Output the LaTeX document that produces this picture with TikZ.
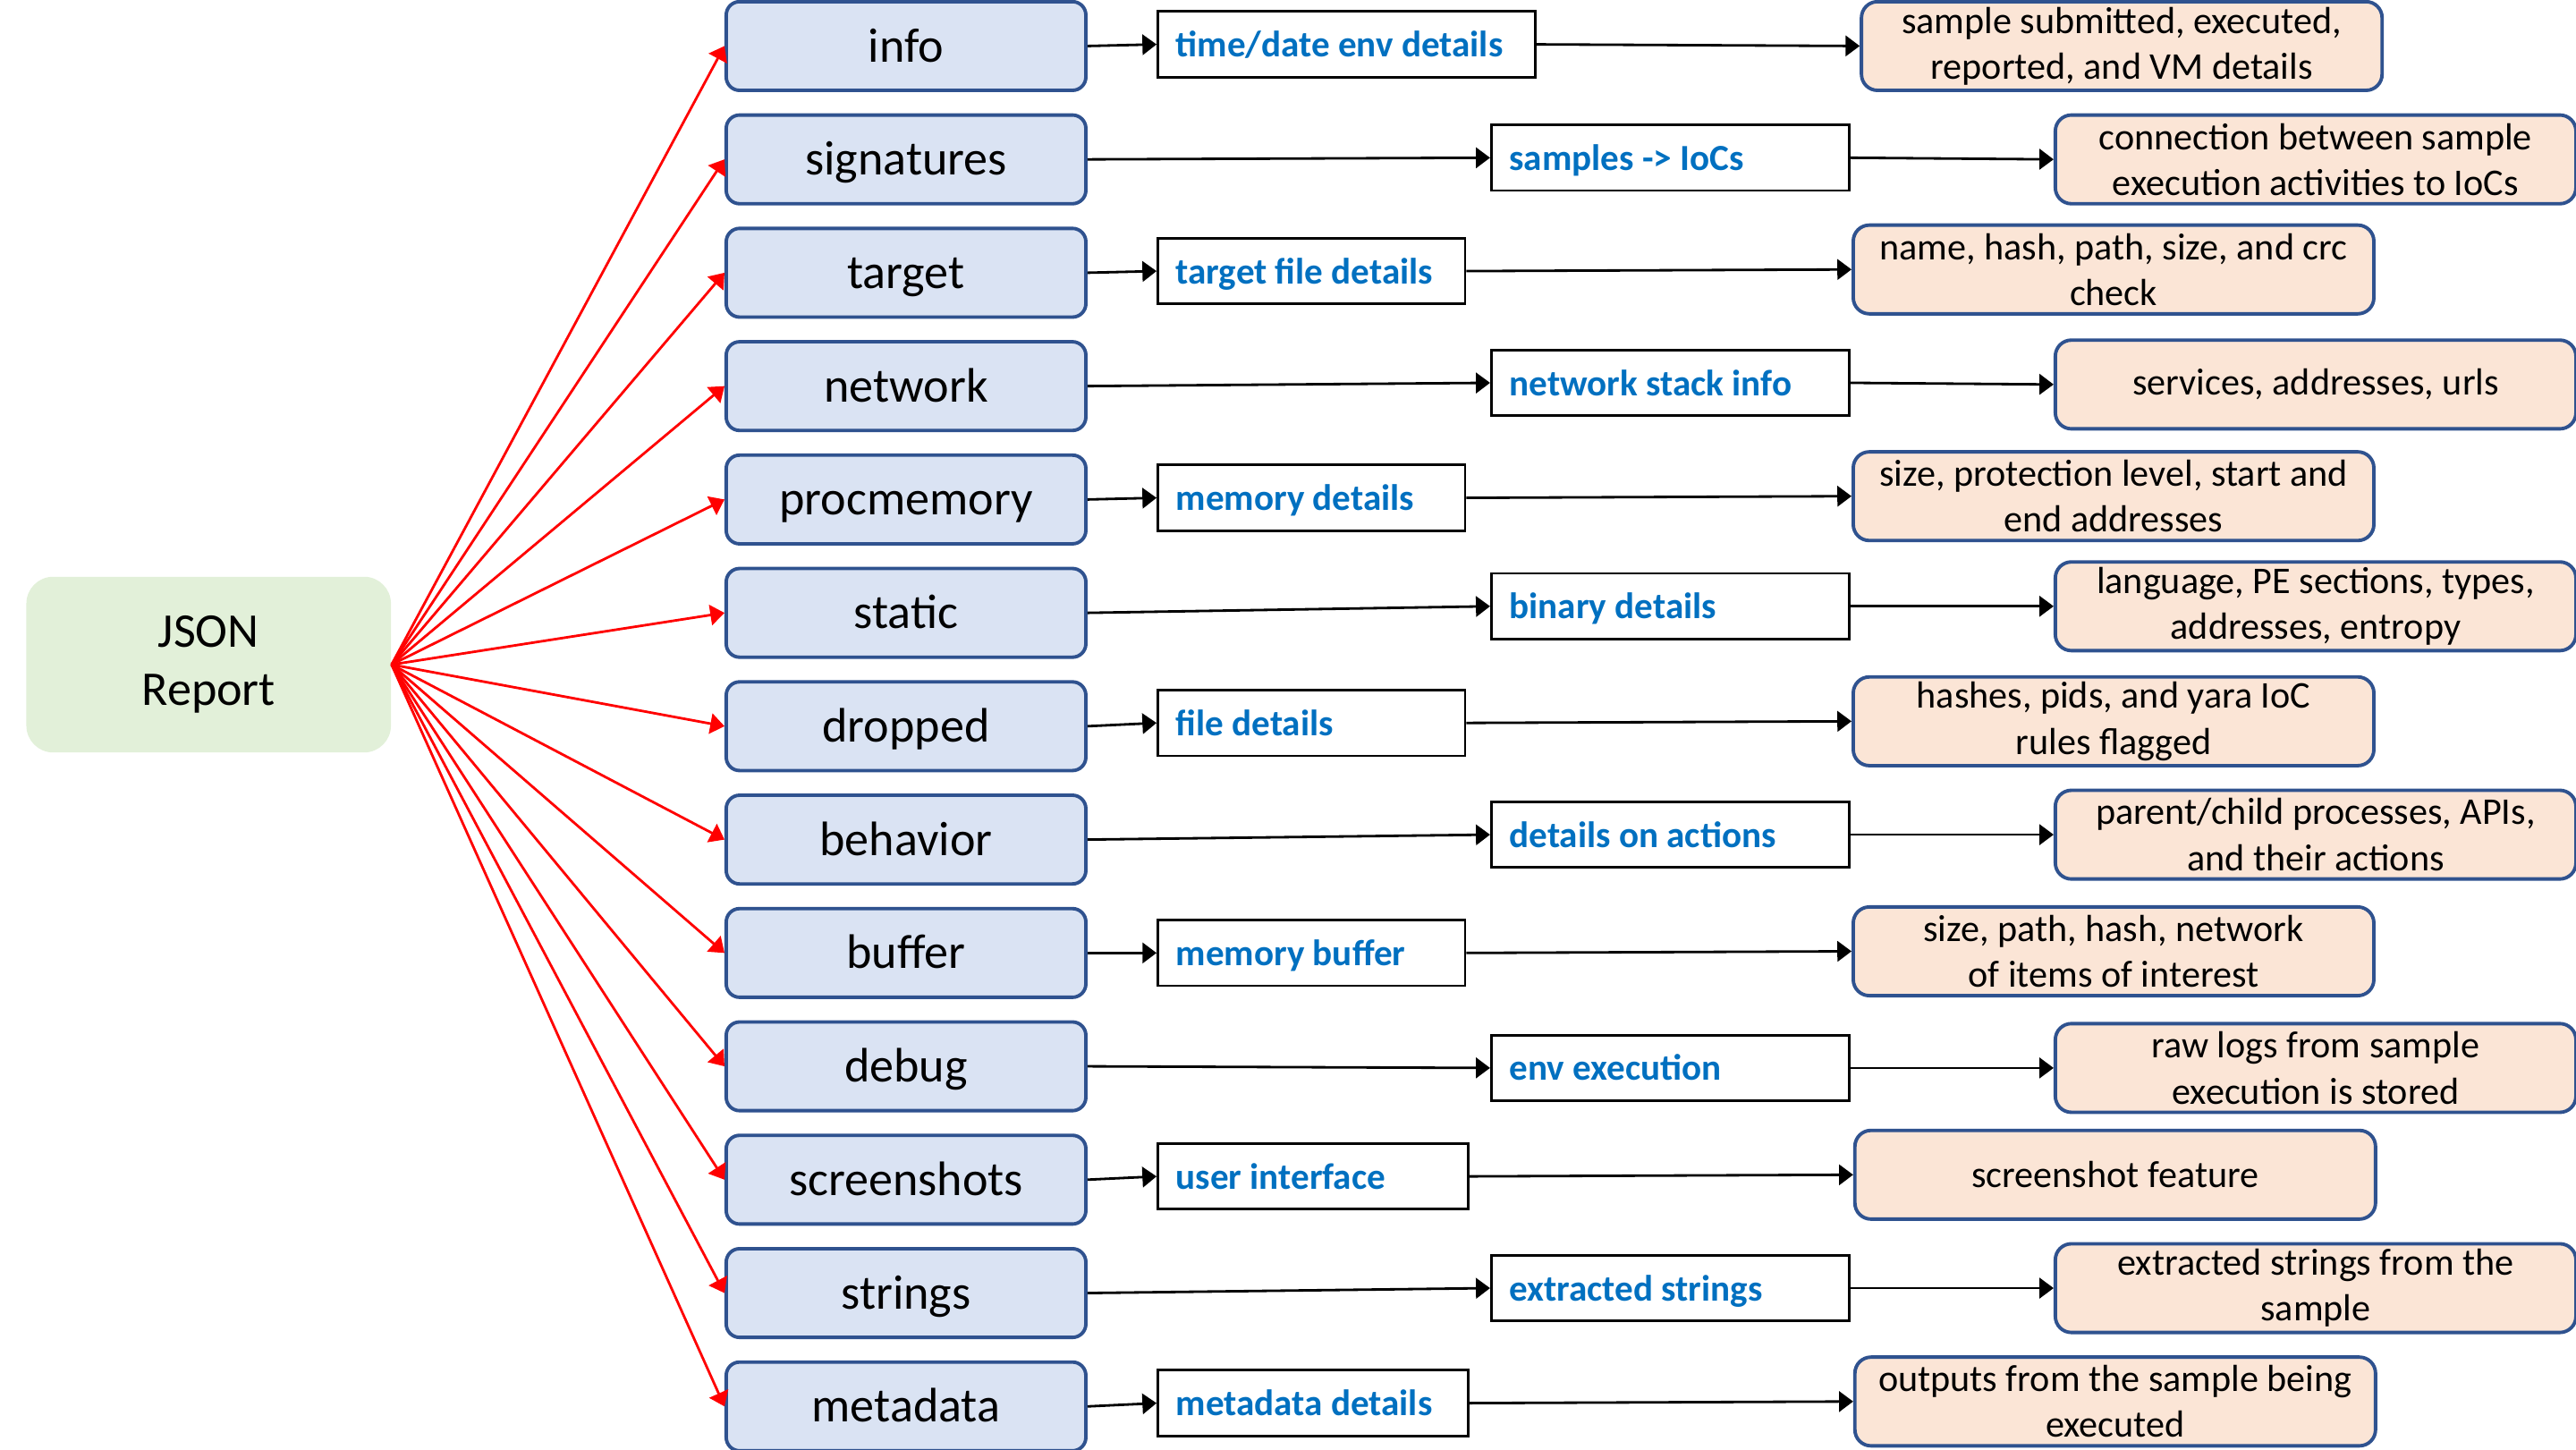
\documentclass[tikz,border=0pt]{standalone}
\usepackage{fontspec}
\setmainfont{Carlito}
\usetikzlibrary{arrows.meta}
\definecolor{lblue}{HTML}{DAE3F3}
\definecolor{bblue}{HTML}{2F528F}
\definecolor{peach}{HTML}{FBE5D6}
\definecolor{lgreen}{HTML}{E2F0D9}
\definecolor{tblue}{HTML}{0070C0}
\newcommand{\diagrow}[9]{%
 \node[lbox] (L#1) at (551.5,{28+69*#1}) {#2};
 \node[mbox] (M#1) at (#4,#5) {\makebox[#3][l]{#6}};
 \node[rbox] (R#1) at (#7,#8) {#9};
 \draw[arr] (L#1.east) -- (M#1.west);
 \draw[arr] (M#1.east) -- (R#1.west);
 \draw[rarr] (J.east) -- (L#1.west);
}
\begin{document}
\begin{tikzpicture}[x=0.018367cm, y=-0.018367cm,
 arr/.style={-{Triangle[length=4.5pt,width=6.5pt]}, line width=0.8pt, black},
 rarr/.style={-{Triangle[length=4.5pt,width=6.5pt]}, line width=0.8pt, red},
 lbox/.style={draw=bblue, fill=lblue, line width=1.1pt, rounded corners=0.15cm,
   minimum width=4.022cm, minimum height=0.992cm, inner sep=0pt,
   text height=11.5pt, text depth=1.5pt,
   font=\fontsize{15.4}{18}\selectfont},
 mbox/.style={draw=black, line width=0.8pt, fill=white, minimum height=0.735cm,
   inner xsep=0.202cm, inner ysep=0pt, anchor=west, text=tblue,
   text height=9pt, text depth=1pt,
   font=\bfseries\fontsize{11.7}{14}\selectfont},
 rbox/.style={draw=bblue, fill=peach, line width=1.1pt, rounded corners=0.18cm,
   minimum width=5.822cm, minimum height=0.992cm, inner sep=0pt, align=center,
   anchor=west, font=\fontsize{12}{14.6}\selectfont},
 jbox/.style={fill=lgreen, rounded corners=0.3cm, minimum width=4.077cm,
   minimum height=1.965cm, align=center, font=\fontsize{15.4}{19.5}\selectfont}]
\useasboundingbox (0,0) rectangle (1568,882);
\node[jbox] (J) at (127,404.5) {\raisebox{-1pt}{JSON}\\Report};
\diagrow{0}{info}{3.820cm}{704}{27}{time/date env details}{1132}{28}{sample submitted, executed,\\reported, and VM details}
\diagrow{1}{signatures}{3.600cm}{907}{96}{samples -> IoCs}{1250}{97}{connection between sample\\execution activities to IoCs}
\diagrow{2}{target}{3.031cm}{704}{165}{target file details}{1127}{164}{name, hash, path, size, and crc\\check}
\diagrow{3}{network}{3.600cm}{907}{233}{network stack info}{1250}{234}{services, addresses, urls}
\diagrow{4}{procmemory}{3.031cm}{704}{303}{memory details}{1127}{302}{size, protection level, start and\\end addresses}
\diagrow{5}{static}{3.600cm}{907}{369}{binary details}{1250}{369}{language, PE sections, types,\\addresses, entropy}
\diagrow{6}{dropped}{3.031cm}{704}{440}{file details}{1127}{439}{hashes, pids, and yara IoC\\rules flagged}
\diagrow{7}{behavior}{3.600cm}{907}{508}{details on actions}{1250}{508}{parent/child processes, APIs,\\and their actions}
\diagrow{8}{buffer}{3.031cm}{704}{580}{memory buffer}{1127}{579}{size, path, hash, network\\of items of interest}
\diagrow{9}{debug}{3.600cm}{907}{650}{env execution}{1250}{650}{raw logs from sample\\execution is stored}
\diagrow{10}{screenshots}{3.067cm}{704}{716}{user interface}{1128}{715}{screenshot feature}
\diagrow{11}{strings}{3.600cm}{907}{784}{extracted strings}{1250}{784}{extracted strings from the\\sample}
\diagrow{12}{metadata}{3.067cm}{704}{854}{metadata details}{1128}{853}{outputs from the sample being\\executed}
\end{tikzpicture}
\end{document}
